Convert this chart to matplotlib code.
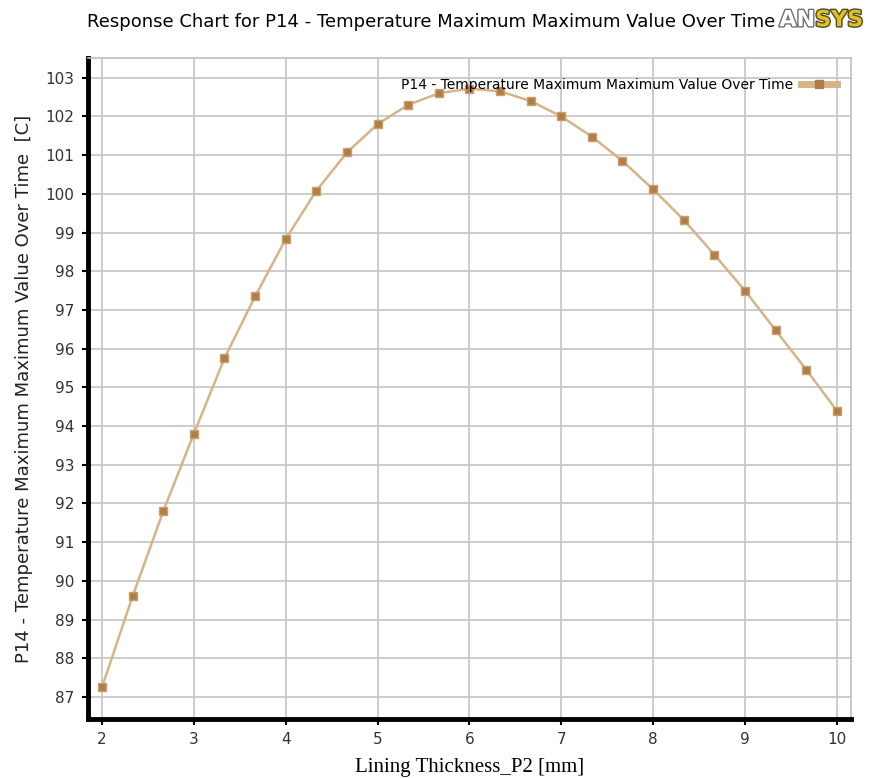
"""
Response chart: P14 temperature vs lining thickness.
"""

import matplotlib.pyplot as plt
import matplotlib.patheffects as pe
from matplotlib.lines import Line2D

# data
thickness = [2.0, 2.333, 2.667, 3.0, 3.333, 3.667, 4.0, 4.333, 4.667, 5.0,
             5.333, 5.667, 6.0, 6.333, 6.667, 7.0, 7.333, 7.667, 8.0, 8.333,
             8.667, 9.0, 9.333, 9.667, 10.0]
temp = [87.25, 89.6, 91.8, 93.8, 95.75, 97.35, 98.83, 100.08, 101.07, 101.8,
        102.3, 102.6, 102.72, 102.65, 102.4, 102.0, 101.48, 100.85, 100.12, 99.33,
        98.43, 97.5, 96.48, 95.46, 94.4]
xticks = [2, 3, 4, 5, 6, 7, 8, 9, 10]
yticks = list(range(87, 104))

title = 'Response Chart for P14 - Temperature Maximum Maximum Value Over Time'
series_name = 'P14 - Temperature Maximum Maximum Value Over Time'
xlab = 'Lining Thickness_P2 [mm]'
ylab = 'P14 - Temperature Maximum Maximum Value Over Time  [C]'

line_c = '#d6b488'
mark_c = '#b07f48'

fig = plt.figure(figsize=(8.69, 7.78), dpi=100)
ax = fig.add_axes([0.1013, 0.0758, 0.878, 0.8496])

ax.plot(thickness, temp, '-', color=line_c, linewidth=1.8, marker='s',
        markersize=6, markerfacecolor=mark_c, markeredgecolor='#c9a06c',
        markeredgewidth=1.0, zorder=3)

ax.set_xlim(1.848, 10.155)
ax.set_ylim(86.43, 103.51)
ax.set_xticks(xticks)
ax.set_yticks(yticks)
ax.grid(True, color='#c8c8c8', linewidth=1.3)
ax.set_axisbelow(True)

for s in ['left', 'bottom']:
    ax.spines[s].set_linewidth(3.5)
    ax.spines[s].set_color('k')
for s in ['top', 'right']:
    ax.spines[s].set_linewidth(1.2)
    ax.spines[s].set_color('#c0c0c0')

ax.tick_params(axis='both', direction='out', length=4, width=1.5, color='k',
               labelcolor='#333333')
ax.tick_params(axis='y', labelsize=11, pad=6)
ax.tick_params(axis='x', labelsize=11, pad=5)

ax.set_xlabel(xlab, fontsize=15, family=['Liberation Serif', 'DejaVu Serif'],
              labelpad=8)
ax.set_ylabel(ylab, fontsize=13, labelpad=9, color='#222222')

# legend handle: thick tan bar with a square marker, text on the left
h = Line2D([], [], color=line_c, linewidth=5, marker='s', markersize=6,
           markerfacecolor=mark_c, markeredgecolor=mark_c)
ax.legend([h], [series_name], loc='upper right', frameon=False,
          markerfirst=False, handlelength=2.6, handletextpad=0.6,
          borderaxespad=0.3, bbox_to_anchor=(0.995, 0.985),
          prop={'size': 10})

fig.text(0.496, 0.972, title, ha='center', va='center', fontsize=13)

# ANSYS logo
fig.text(0.938, 0.974, 'AN', ha='right', va='center', fontsize=16,
         fontweight='bold', color='white',
         path_effects=[pe.withStroke(linewidth=2, foreground='#707070')])
fig.text(0.938, 0.974, 'SYS', ha='left', va='center', fontsize=16,
         fontweight='bold', color='#e2c01a',
         path_effects=[pe.withStroke(linewidth=2, foreground='#4a4a30')])

plt.savefig('out.png', dpi=100)
